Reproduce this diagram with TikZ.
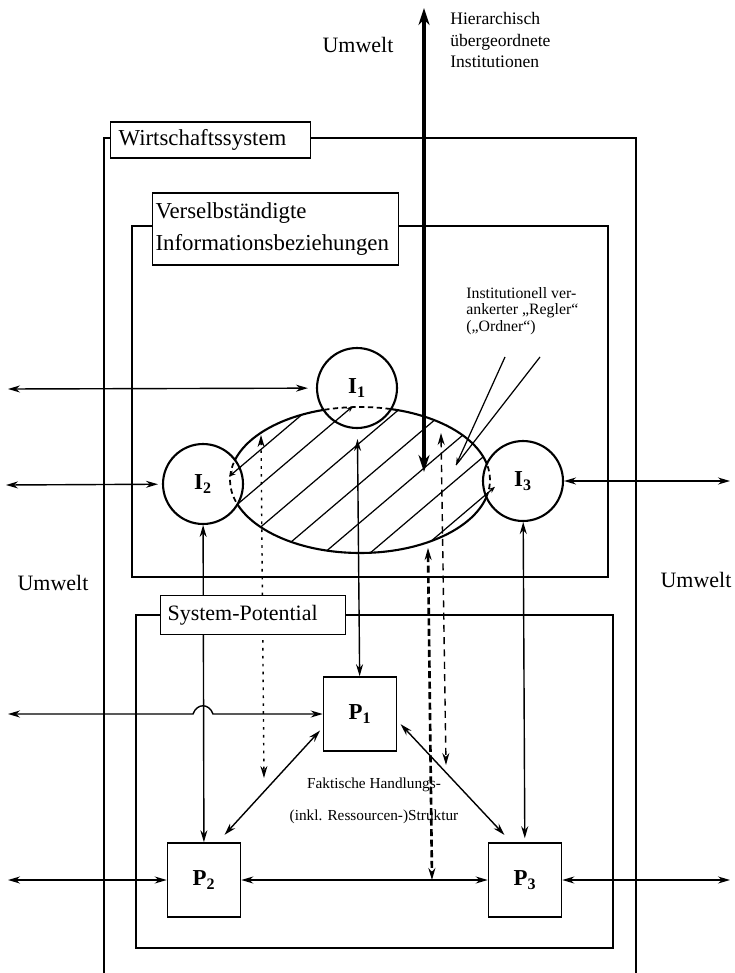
\documentclass[tikz,border=0pt]{standalone}
\usepackage{fontspec}
\setmainfont{Liberation Serif}
\usetikzlibrary{arrows.meta}

\tikzset{
  frame/.style={line width=0.9pt},
  tag/.style={draw, fill=white, line width=0.7pt, align=left, anchor=west,
              font=\fontsize{13}{15}\selectfont},
  inst/.style={circle, draw, fill=white, line width=1.2pt, minimum size=1.6cm,
               inner sep=0pt, font=\fontsize{13}{15}\selectfont\bfseries},
  pot/.style={draw, fill=white, line width=0.9pt, minimum width=1.46cm,
              minimum height=1.48cm, font=\fontsize{13}{15}\selectfont\bfseries},
  flow/.style={line width=0.8pt, <->},
  world/.style={font=\fontsize{12.5}{15}\selectfont},
  note/.style={align=left, inner sep=0pt, anchor=west},
}

\begin{document}
\begin{tikzpicture}[x=0.02cm, y=-0.02cm, >={Stealth[length=2.4mm,width=1.4mm]}]
\useasboundingbox (0,0) rectangle (734,973);

% frames
\draw[frame] (104,973) |- (636,138) -- (636,973);
\draw[frame] (132,226) rectangle (608,577);
\draw[frame] (136,615) rectangle (613,948);

\node[world] (uw-top) at (358,45) {Umwelt};
\node[world] (uw-left) at (53,583) {Umwelt};
\node[world] (uw-right) at (696,580) {Umwelt};
\node[note, font=\fontsize{10}{12.5}\selectfont] (hier) at (450,40)
  {Hierarchisch\\übergeordnete\\Institutionen};

% hatched regulator
\begin{scope}
  \clip (360,480) ellipse [x radius=2.6cm, y radius=1.46cm];
  \foreach \c in {225,266,316,364,410,456,503}
    \draw[line width=0.7pt] ({\c-160},616) -- ({\c+160},344);
\end{scope}
\draw[line width=1.2pt] (360,480) ellipse [x radius=2.6cm, y radius=1.46cm];

% information nodes
\node[inst] (I1) at (357,388) {I\textsubscript{1}};
\node[inst] (I2) at (203,484) {I\textsubscript{2}};
\node[inst] (I3) at (523,481) {I\textsubscript{3}};
\foreach \i in {I1,I2,I3} {
  \begin{scope}
    \clip (\i.center) circle (0.78cm);
    \draw[line width=1pt, dash pattern=on 3pt off 2pt]
      (360,480) ellipse [x radius=2.6cm, y radius=1.46cm];
  \end{scope}
}
\draw[line width=0.7pt, -{Stealth[length=1.3mm,width=1mm]}] (241,466.4) -- (229,476.6);
\draw[line width=0.7pt, -{Stealth[length=1.3mm,width=1mm]}] (335,421.4) -- (353,406.1);
\draw[line width=0.7pt, -{Stealth[length=1.3mm,width=1mm]}] (485,495.3) -- (495,486.8);

% potential nodes
\node[pot] (P1) at (360,714) {P\textsubscript{1}};
\node[pot] (P2) at (204,880) {P\textsubscript{2}};
\node[pot] (P3) at (525,880) {P\textsubscript{3}};

% higher institutions
\coordinate (sky) at (424,8);
\coordinate (core) at (424,472);
\draw[line width=2pt, {Stealth[length=3.4mm,width=2.2mm]}-{Stealth[length=3.4mm,width=2.2mm]}] (sky) -- (core);

% environment links
\coordinate (w1) at (8,389);
\coordinate (w2) at (6,485);
\coordinate (e3) at (730,481);
\coordinate (w4) at (8,714);
\coordinate (w5) at (8,880);
\coordinate (e6) at (730,880);
\draw[flow, shorten >=0.16cm] (w1) -- (I1);
\draw[flow, shorten >=0.08cm] (w2) -- (I2);
\draw[flow] (I3) -- (e3);
\draw[flow] (w4) -- (193,714) .. controls (197,703) and (209,703) .. (213,714) -- (P1);
\draw[flow] (w5) -- (P2);
\draw[flow] (P3) -- (e6);

% links between the levels
\draw[flow, shorten <=0.2cm] (I1) -- (P1);
\draw[flow] (I2) -- (P2);
\draw[flow, shorten >=0.08cm] (I3) -- (P3);
\draw[flow] (P2) -- (P3);
\draw[flow, shorten <=0.08cm, shorten >=0.2cm] (P1.200) -- (P2.70);
\draw[flow, shorten <=0.1cm, shorten >=0.2cm] (P1.-10) -- (P3.110);

\coordinate (dot-top) at (261,435);
\coordinate (dot-bot) at (264,778);
\draw[flow, dash pattern=on 1.5pt off 3pt] (dot-top) -- (dot-bot);
\coordinate (dash-top) at (441,433);
\coordinate (dash-bot) at (446,765);
\draw[flow, dash pattern=on 4pt off 3pt] (dash-top) -- (dash-bot);
\coordinate (reg-bot) at (428,548);
\coordinate (hit) at (432,880);
\draw[flow, line width=1.5pt, dash pattern=on 4pt off 2pt] (reg-bot) -- (hit);

% regulator label
\node[note, font=\fontsize{9}{9.5}\selectfont] (regtxt) at (466,311)
  {Institutionell ver-\\ankerter „Regler“\\(„Ordner“)};
\coordinate (r1) at (505,357);
\coordinate (r2) at (540,357);
\coordinate (rg) at (456,465);
\draw[line width=0.7pt, -{Stealth[length=1.5mm,width=1mm]}] (r1) -- (rg);
\draw[line width=0.7pt] (r2) -- (rg);

\node[align=center, font=\fontsize{8.7}{18}\selectfont] (struct) at (374,801)
  {Faktische Handlungs-\\(inkl. Ressourcen-)Struktur};

% frame titles
\node[tag, inner xsep=0.16cm, minimum height=0.72cm, text width=3.68cm] (wsys) at (110,140)
  {Wirtschaftssystem};
\node[tag, inner xsep=0.06cm, minimum height=1.44cm, text width=4.8cm] (vib) at (152,229)
  {Verselbständigte\\[3pt]Informationsbeziehungen};
\node[tag, inner xsep=0.14cm, minimum height=0.78cm, text width=3.42cm,
      font=\fontsize{12.5}{15}\selectfont] (sysp) at (160,615)
  {System-Potential};
\end{tikzpicture}
\end{document}
